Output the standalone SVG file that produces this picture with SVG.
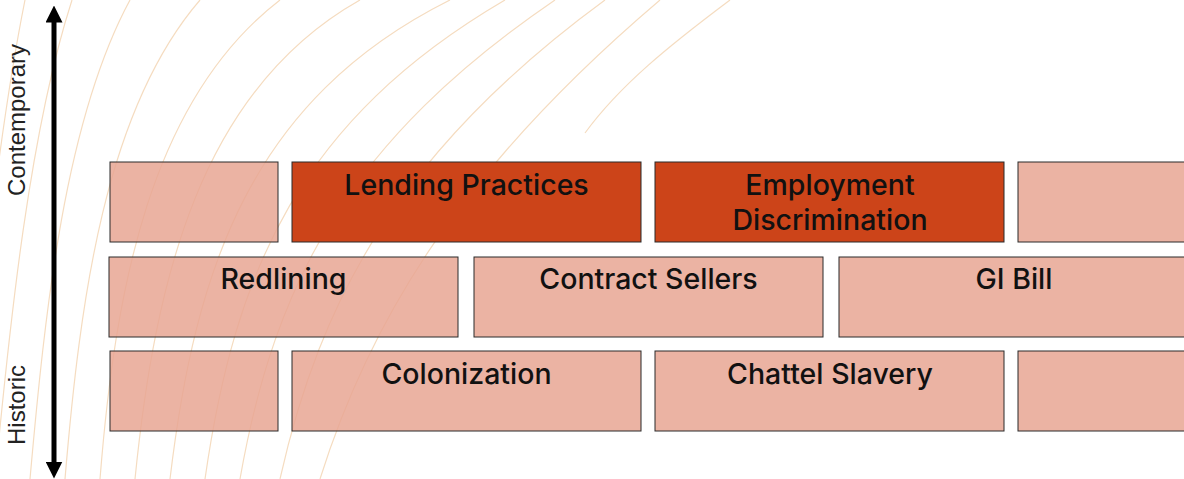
<svg xmlns="http://www.w3.org/2000/svg" width="1184" height="479" viewBox="0 0 1184 479">
<defs>
<style>
.bg{fill:none;stroke:#f5dcc0;stroke-width:1.2}
.lt{fill:#e7a693;fill-opacity:0.85;stroke:#2a2a2a;stroke-width:1}
.dk{fill:#cc4419;stroke:#2a2a2a;stroke-width:1}
.lbl{font-family:Inter,"Noto Sans",sans-serif;font-size:28.5px;fill:#111;text-anchor:middle;font-weight:500}
.ax{font-family:"Liberation Sans",Arial,sans-serif;font-size:24px;fill:#222;text-anchor:middle}
</style>
<marker id="ah" viewBox="0 0 10 10" refX="5" refY="5" markerWidth="3.4" markerHeight="3.4" orient="auto-start-reverse" markerUnits="strokeWidth">
<path d="M0,0 L10,5 L0,10 z" fill="#000"/>
</marker>
</defs>
<rect width="1184" height="479" fill="#fff"/>
<g id="background">
<path class="bg" d="M-40,479 C-20,330 -5,150 25,0"/>
<path class="bg" d="M-5,479 C10,320 30,130 72,0"/>
<path class="bg" d="M30,479 C45,310 65,120 130,0"/>
<path class="bg" d="M65,479 C80,300 105,110 200,0"/>
<path class="bg" d="M100,479 C115,290 150,100 280,0"/>
<path class="bg" d="M135,479 C155,280 200,90 360,0"/>
<path class="bg" d="M170,479 C195,270 250,100 450,0"/>
<path class="bg" d="M205,479 C235,270 300,120 505,0"/>
<path class="bg" d="M240,479 C275,280 350,140 555,0"/>
<path class="bg" d="M280,479 C320,300 400,150 605,0"/>
<path class="bg" d="M320,479 C370,320 460,170 660,0"/>
<path class="bg" d="M585,133 C620,85 670,45 730,0"/>
</g>
<g id="axis">
<line x1="54" y1="14" x2="54" y2="470" stroke="#000" stroke-width="5" marker-start="url(#ah)" marker-end="url(#ah)"/>
<text class="ax" transform="translate(25,120) rotate(-90)">Contemporary</text>
<text class="ax" transform="translate(25,405) rotate(-90)">Historic</text>
</g>
<g id="row1">
<g id="r1a"><rect class="lt" x="110" y="162" width="168" height="80"/></g>
<g id="lending"><rect class="dk" x="292" y="162" width="349" height="80"/><text class="lbl" x="466.5" y="195">Lending Practices</text></g>
<g id="employment"><rect class="dk" x="655" y="162" width="349" height="80"/><text class="lbl" x="830" y="195">Employment</text><text class="lbl" x="830" y="230">Discrimination</text></g>
<g id="r1d"><rect class="lt" x="1018" y="162" width="180" height="80"/></g>
</g>
<g id="row2">
<g id="redlining"><rect class="lt" x="109" y="257" width="349" height="80"/><text class="lbl" x="283.5" y="289">Redlining</text></g>
<g id="contract"><rect class="lt" x="474" y="257" width="349" height="80"/><text class="lbl" x="648.5" y="289">Contract Sellers</text></g>
<g id="gibill"><rect class="lt" x="839" y="257" width="360" height="80"/><text class="lbl" x="1014" y="289">GI Bill</text></g>
</g>
<g id="row3">
<g id="r3a"><rect class="lt" x="110" y="351" width="168" height="80"/></g>
<g id="colonization"><rect class="lt" x="292" y="351" width="349" height="80"/><text class="lbl" x="466.5" y="384">Colonization</text></g>
<g id="slavery"><rect class="lt" x="655" y="351" width="349" height="80"/><text class="lbl" x="830" y="384">Chattel Slavery</text></g>
<g id="r3d"><rect class="lt" x="1018" y="351" width="180" height="80"/></g>
</g>
</svg>
